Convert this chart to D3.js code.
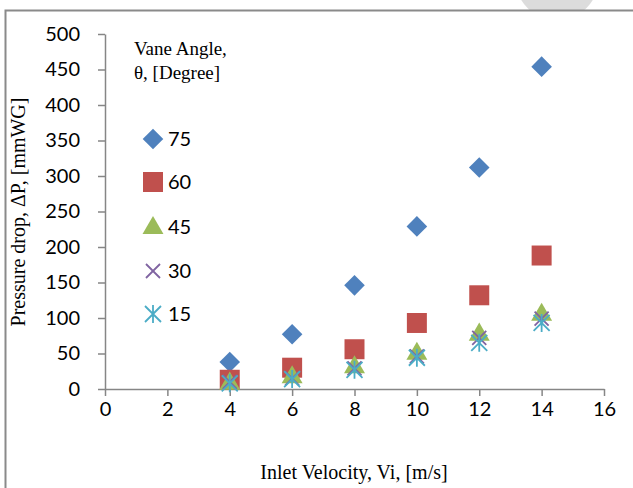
<!DOCTYPE html>
<html><head><meta charset="utf-8">
<script src="https://cdn.jsdelivr.net/npm/d3@7"></script>
<style>body{margin:0;background:#fff}svg{display:block}</style>
</head><body>
<svg id="c" width="633" height="488"></svg>
<script>
const velocities = [4, 6, 8, 10, 12, 14];
const seriesNames = ["75", "60", "45", "30", "15"];
const v75 = [38, 77, 146, 229, 312, 454];
const v60 = [13, 30, 56, 93, 132, 188];
const v45 = [9, 18, 32, 51, 78, 106];
const v30 = [10, 15, 29, 46, 72, 99];
const v15 = [8, 14, 27, 44, 65, 93];
const xTicks = [0, 2, 4, 6, 8, 10, 12, 14, 16];
const yTicks = [0, 50, 100, 150, 200, 250, 300, 350, 400, 450, 500];

const seriesValues = [v75, v60, v45, v30, v15];
const colors = ["#4F81BD", "#C0504D", "#9BBB59", "#8064A2", "#4BACC6"];
const shapes = ["diamond", "square", "triangle", "x", "star"];

const svg = d3.select("#c");
svg.append("clipPath").attr("id","topclip").append("rect").attr("x",0).attr("y",0).attr("width",633).attr("height",10);
svg.append("circle").attr("cx",557).attr("cy",-22).attr("r",42).attr("fill","#dcdcdc").attr("clip-path","url(#topclip)");
svg.append("path").attr("d","M5.5,700 V10.5 H700").attr("fill","none").attr("stroke","#8a8a8a").attr("stroke-width",2);

const x = d3.scaleLinear().domain([0,16]).range([105,604]);
const y = d3.scaleLinear().domain([0,500]).range([389,34]);
const sans = "Lato, 'Open Sans', sans-serif";

const xAxis = svg.append("g").attr("transform","translate(0,389)")
  .call(d3.axisBottom(x).tickValues(xTicks).tickSize(7).tickSizeOuter(0).tickPadding(6).tickFormat(d3.format("d")));
const yAxis = svg.append("g").attr("transform","translate(105,0)")
  .call(d3.axisLeft(y).tickValues(yTicks).tickSize(7).tickSizeOuter(0).tickPadding(18).tickFormat(d3.format("d")));
[xAxis,yAxis].forEach(a=>{
  a.select(".domain").attr("stroke","#868686").attr("stroke-width",1.5);
  a.selectAll(".tick line").attr("stroke","#868686").attr("stroke-width",1.5);
  a.selectAll("text").attr("font-family",sans).attr("font-size",20).attr("fill","#000");
});

function sym(shape){
  switch(shape){
    case "diamond": return d3.symbol(d3.symbolDiamond2, 270)();
    case "square": return d3.symbol(d3.symbolSquare, 400)();
    case "triangle": return d3.symbol(d3.symbolTriangle, 190)();
    case "x": return d3.symbol(d3.symbolTimes, 130)();
    case "star": return "M-8,-8L8,8M-8,8L8,-8M0,-9V9";
  }
}
function drawMark(g, shape, color){
  const p = g.append("path").attr("d", sym(shape));
  if (shape==="x" || shape==="star") p.attr("fill","none").attr("stroke",color).attr("stroke-width",1.8);
  else p.attr("fill",color);
  if (shape==="triangle") p.attr("transform","translate(0,1)");
}

const plot = svg.append("g");
seriesValues.forEach((vals, si) => {
  vals.forEach((v, i) => {
    const g = plot.append("g").attr("transform",`translate(${x(velocities[i])},${y(v)})`);
    drawMark(g, shapes[si], colors[si]);
  });
});

const serif = "'Liberation Serif', 'Times New Roman', serif";
svg.append("text").attr("x",134).attr("y",55).attr("font-family",serif).attr("font-size",19).text("Vane Angle,");
svg.append("text").attr("x",134).attr("y",79).attr("font-family",serif).attr("font-size",19).text("θ, [Degree]");
const legY = [139, 182, 227, 271, 314];
seriesNames.forEach((n, si) => {
  const g = svg.append("g").attr("transform",`translate(153,${legY[si]})`);
  drawMark(g, shapes[si], colors[si]);
  svg.append("text").attr("x",168).attr("y",legY[si]).attr("dy","0.36em")
    .attr("font-family",sans).attr("font-size",20).text(n);
});

svg.append("text").attr("x",354).attr("y",479).attr("text-anchor","middle")
  .attr("font-family",serif).attr("font-size",20).text("Inlet Velocity, Vi, [m/s]");
svg.append("text").attr("transform","translate(25,212) rotate(-90)").attr("text-anchor","middle")
  .attr("font-family",serif).attr("font-size",20).text("Pressure drop, ΔP, [mmWG]");
</script>
</body></html>
